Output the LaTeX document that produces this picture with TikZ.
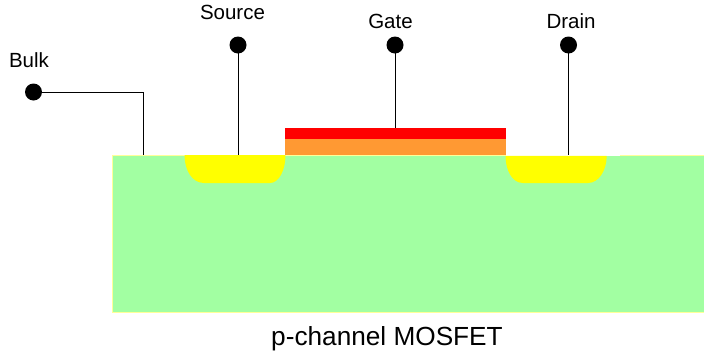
\documentclass[tikz,border=0pt]{standalone}
\usepackage{fontspec}
\setmainfont{Liberation Sans}
\definecolor{subst}{HTML}{A2FFA2}
\definecolor{subedge}{HTML}{FFFF99}
\definecolor{well}{HTML}{FFFF00}
\definecolor{oxide}{HTML}{FF9933}
\definecolor{gatered}{HTML}{FF0000}
\tikzset{
  x=1pt,y=-1pt,
  terminal/.style={circle,fill=black,minimum size=17pt,inner sep=0pt},
  lead/.style={draw=black,line width=1pt},
  lab/.style={font=\fontsize{20.5}{24}\selectfont,inner sep=0pt,anchor=base},
  wellshape/.style={fill=well,draw=none}
}
\begin{document}
\begin{tikzpicture}
\useasboundingbox (0,0) rectangle (704,354);
\fill[subst,draw=subedge,line width=1pt] (112.2,155.5) rectangle (705,312.2);
\fill[white] (506,150) rectangle (620,156);
\path[wellshape] (184.5,155) .. controls (184.5,170) and (192,183) .. (204,183) -- (270,183) .. controls (279,183) and (285.5,170) .. (285.5,155) -- cycle;
\path[wellshape] (505.5,155.8) .. controls (505.5,170) and (512,183) .. (523,183) -- (588,183) .. controls (599,183) and (606.7,170) .. (606.7,155.8) -- cycle;
\fill[oxide] (285,139) rectangle (506,155);
\fill[gatered] (285,128) rectangle (506,139);
\coordinate (bulkend) at (143.5,155);
\coordinate (sourceend) at (238,155);
\coordinate (gateend) at (395,128);
\coordinate (drainend) at (568.5,155);
\node[terminal] (bulk) at (33.5,92) {};
\node[terminal] (source) at (238,45) {};
\node[terminal] (gate) at (395,45) {};
\node[terminal] (drain) at (568.5,45) {};
\draw[lead] (bulk.center) -| (bulkend);
\draw[lead] (source.center) -- (sourceend);
\draw[lead] (gate.center) -- (gateend);
\draw[lead] (drain.center) -- (drainend);
\node[lab] (bulklabel) at (29,67) {Bulk};
\node[lab] (sourcelabel) at (232.5,19) {Source};
\node[lab] (gatelabel) at (390.5,28) {Gate};
\node[lab] (drainlabel) at (571,28) {Drain};
\node[lab,font=\fontsize{26.2}{30}\selectfont] (title) at (387,345) {p-channel MOSFET};
\end{tikzpicture}
\end{document}
